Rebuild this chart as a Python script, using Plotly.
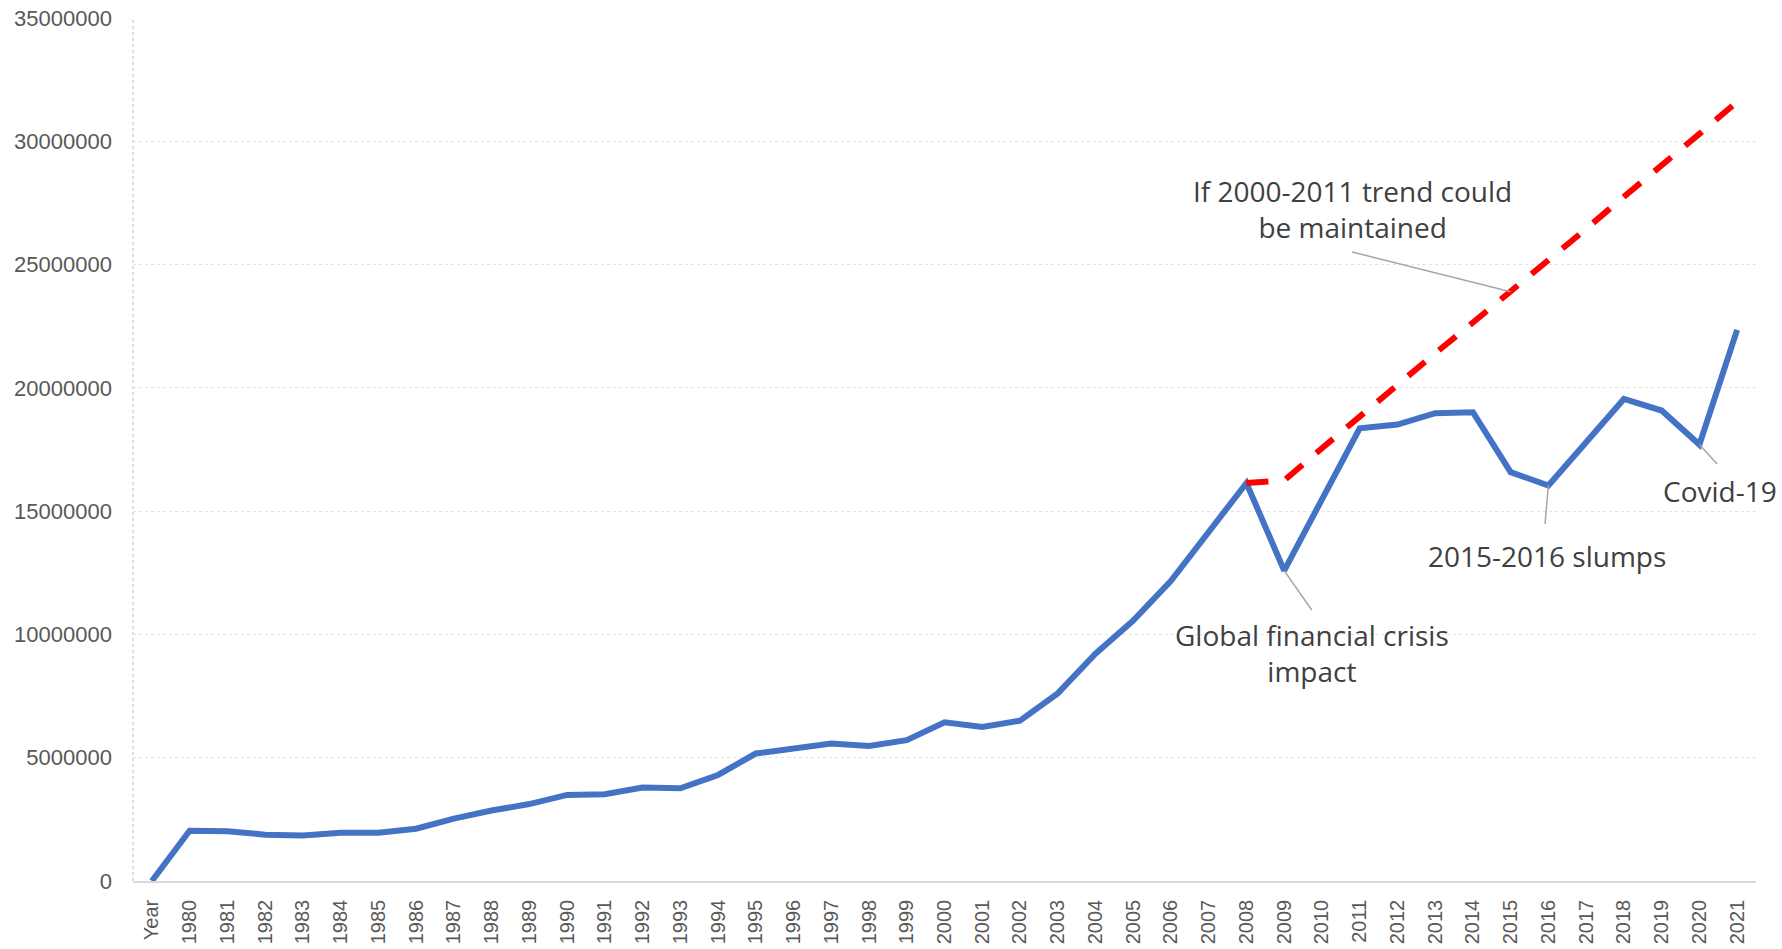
import plotly.graph_objects as go

categories = ["Year"] + [str(y) for y in range(1980, 2022)]

arrivals = [
    0, 2040000, 2020000, 1880000, 1850000, 1960000, 1960000, 2120000, 2530000, 2860000,
    3120000, 3490000, 3520000, 3790000, 3760000, 4300000, 5170000, 5400000, 5580000, 5480000,
    5710000, 6440000, 6250000, 6500000, 7610000, 9220000, 10560000, 12170000, 14160000, 16140000,
    12590000, 15420000, 18360000, 18510000, 18970000, 19010000, 16580000, 16040000, 17760000, 19550000,
    19080000, 17700000, 22350000,
]

trend_years = [str(y) for y in range(2008, 2022)]
trend_values = [
    16140000, 16250000, 17550000, 18850000, 20100000, 21400000, 22650000,
    23900000, 25200000, 26450000, 27750000, 29000000, 30300000, 31600000,
]

annotation_texts = [
    "If 2000-2011 trend could<br>be maintained",
    "Global financial crisis<br>impact",
    "2015-2016 slumps",
    "Covid-19",
]

y_ticks = [0, 5000000, 10000000, 15000000, 20000000, 25000000, 30000000, 35000000]

fig = go.Figure()
fig.add_trace(go.Scatter(
    x=categories, y=arrivals, mode="lines",
    line=dict(color="#4472C4", width=6), showlegend=False,
))
fig.add_trace(go.Scatter(
    x=trend_years, y=trend_values, mode="lines",
    line=dict(color="#FF0000", width=6, dash="22px,18px"), showlegend=False,
))

idx = {c: i for i, c in enumerate(categories)}
grey_txt = "#404040"
ann_font = dict(family="Open Sans", size=28, color=grey_txt)

# text labels
text_pos = [(31.80, 27250000), (30.73, 9230000), (36.96, 13200000), (41.55, 15820000)]
for t, (xx, yy) in zip(annotation_texts, text_pos):
    fig.add_annotation(x=xx, y=yy, xref="x", yref="y", text=t, showarrow=False,
                       font=ann_font, xanchor="center", yanchor="middle", align="center")

# leader lines
heads = [
    (idx["2015"], trend_values[trend_years.index("2015")]),
    (idx["2009"], arrivals[idx["2009"]]),
    (idx["2016"], arrivals[idx["2016"]]),
    (idx["2020"], arrivals[idx["2020"]]),
]
tails = [(31.80, 25510000), (30.73, 10990000), (36.91, 14480000), (41.47, 16910000)]
for (hx, hy), (tx, ty) in zip(heads, tails):
    fig.add_shape(type="line", xref="x", yref="y", x0=hx, y0=hy, x1=tx, y1=ty,
                  line=dict(color="#a6a6a6", width=1.5))

# dotted y axis line
fig.add_shape(type="line", xref="paper", yref="paper", x0=0, x1=0, y0=0, y1=1,
              line=dict(color="#bfbfbf", width=1, dash="dot"), layer="below")

fig.update_layout(
    width=1782, height=949,
    margin=dict(l=133, r=26, t=18, b=68, autoexpand=False),
    paper_bgcolor="white", plot_bgcolor="white",
    showlegend=False,
)
fig.update_xaxes(
    type="category", range=[-0.5, len(categories) - 0.5], automargin=False,
    tickangle=-90, tickfont=dict(family="Liberation Sans", size=20, color="#595959"),
    showgrid=False, showline=True, linecolor="#d9d9d9", linewidth=1.5,
    ticks="", ticklabelstandoff=9, zeroline=False,
)
fig.update_yaxes(
    range=[0, 35000000], tickvals=y_ticks, tickformat="d", automargin=False,
    tickfont=dict(family="Liberation Sans", size=22, color="#595959"),
    showgrid=True, gridcolor="#e3e3e3", griddash="dot", gridwidth=1,
    zeroline=False, showline=False, ticks="", ticklabelstandoff=20,
)

fig.write_html("out.html")
